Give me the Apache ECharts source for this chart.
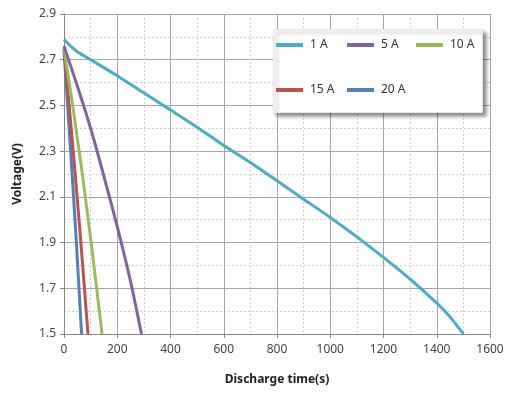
<!DOCTYPE html>
<html><head><meta charset="utf-8">
<script src="https://cdn.jsdelivr.net/npm/echarts@6/dist/echarts.min.js"></script>
<style>html,body{margin:0;padding:0;background:#fff}#c{width:513px;height:394px}</style>
</head><body><div id="c"></div>
<script>
const seriesNames = ['1 A', '5 A', '10 A', '15 A', '20 A'];
const seriesColors = ['#4BACC6', '#8064A2', '#9BBB59', '#C0504D', '#4F81BD'];
const time1A = [0, 20, 50, 100, 200, 300, 400, 500, 600, 700, 800, 900, 1000, 1100, 1200, 1300, 1400, 1450, 1500];
const volt1A = [2.79, 2.765, 2.735, 2.70, 2.63, 2.555, 2.48, 2.405, 2.325, 2.25, 2.17, 2.09, 2.01, 1.925, 1.835, 1.74, 1.635, 1.575, 1.50];
const time5A = [0, 50, 100, 150, 200, 250, 291];
const volt5A = [2.76, 2.585, 2.40, 2.19, 1.97, 1.73, 1.50];
const time10A = [0, 35, 70, 105, 143];
const volt10A = [2.75, 2.48, 2.19, 1.87, 1.50];
const time15A = [0, 30, 60, 90];
const volt15A = [2.75, 2.36, 1.95, 1.50];
const time20A = [0, 22, 44, 66];
const volt20A = [2.74, 2.35, 1.95, 1.50];
const xTicks = [0, 200, 400, 600, 800, 1000, 1200, 1400, 1600];
const yTicks = [1.5, 1.7, 1.9, 2.1, 2.3, 2.5, 2.7, 2.9];

const allT = [time1A, time5A, time10A, time15A, time20A];
const allV = [volt1A, volt5A, volt10A, volt15A, volt20A];

const font = "'Noto Sans', 'DejaVu Sans', sans-serif";
const chart = echarts.init(document.getElementById('c'));

const legendPos = [
  {left: 276, top: 39}, {left: 347, top: 39}, {left: 416, top: 39},
  {left: 276, top: 84}, {left: 347, top: 84}
];

chart.setOption({
  animation: false,
  grid: {left: 64, right: 23, top: 14, bottom: 60},
  xAxis: {
    type: 'value', min: xTicks[0], max: xTicks[xTicks.length - 1], interval: 200,
    name: 'Discharge time(s)', nameLocation: 'middle', nameGap: 40,
    nameTextStyle: {fontFamily: font, fontSize: 12, fontWeight: 'bold', color: '#222'},
    axisLine: {show: true, lineStyle: {color: '#888', width: 1}},
    axisTick: {show: true, length: 4, lineStyle: {color: '#888'}},
    axisLabel: {fontFamily: font, fontSize: 12, color: '#444', margin: 10,
      formatter: v => String(v)},
    splitLine: {show: true, lineStyle: {color: '#a6a6a6', width: 1}},
    minorTick: {show: false, splitNumber: 2},
    minorSplitLine: {show: true, lineStyle: {color: '#cfcfcf', type: [2, 2], width: 1}}
  },
  yAxis: {
    type: 'value', min: yTicks[0], max: yTicks[yTicks.length - 1], interval: 0.2,
    name: 'Voltage(V)', nameLocation: 'middle', nameGap: 40,
    nameTextStyle: {fontFamily: font, fontSize: 12, fontWeight: 'bold', color: '#222'},
    axisLine: {show: true, lineStyle: {color: '#888', width: 1}},
    axisTick: {show: true, length: 4, lineStyle: {color: '#888'}},
    axisLabel: {fontFamily: font, fontSize: 12, color: '#444', margin: 8,
      formatter: v => v.toFixed(1)},
    splitLine: {show: true, lineStyle: {color: '#a6a6a6', width: 1}},
    minorTick: {show: false, splitNumber: 2},
    minorSplitLine: {show: true, lineStyle: {color: '#cfcfcf', type: [2, 2], width: 1}}
  },
  graphic: [{
    type: 'rect', left: 273, top: 29, z: 50,
    shape: {width: 209, height: 83},
    style: {fill: '#fff', stroke: '#e6e6e6', lineWidth: 1,
      shadowBlur: 4, shadowColor: 'rgba(0,0,0,0.45)', shadowOffsetX: 3, shadowOffsetY: 3}
  }],
  legend: seriesNames.map((n, i) => ({
    data: [n], left: legendPos[i].left, top: legendPos[i].top, z: 60,
    itemWidth: 27, itemHeight: 4, itemGap: 0, padding: 0,
    icon: 'rect',
    textStyle: {fontFamily: font, fontSize: 12, color: '#333', padding: [0, 0, 0, 2]}
  })),
  series: seriesNames.map((n, i) => ({
    name: n, type: 'line', smooth: 0.2, showSymbol: false, symbol: 'none',
    data: allT[i].map((t, k) => [t, allV[i][k]]),
    lineStyle: {color: seriesColors[i], width: 3},
    itemStyle: {color: seriesColors[i]},
    z: 10 - i
  }))
});
</script></body></html>
